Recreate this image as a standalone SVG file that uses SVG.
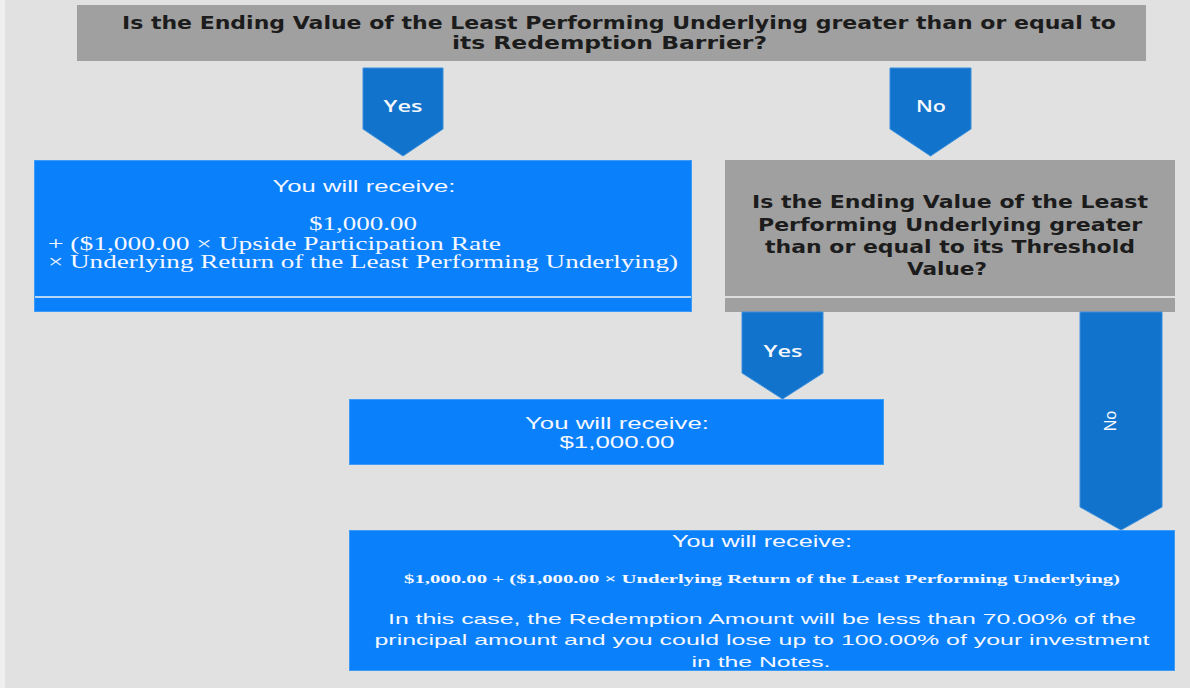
<svg xmlns="http://www.w3.org/2000/svg" width="1190" height="688" viewBox="0 0 1190 688">
<style>
.q{fill:#a0a0a0}
.b{fill:#0a80fa;stroke:#3d9bf5;stroke-width:1}
.ar{fill:#1273cc;stroke:#3a8fdc;stroke-width:1}
.qt{font-family:"DejaVu Sans",sans-serif;font-weight:bold;fill:#1c1c1c}
.at{font-family:"Open Sans","Liberation Sans",sans-serif;font-size:17px;font-weight:600;fill:#f4f8fc;text-anchor:middle}
.st{font-family:"Liberation Sans",Arial,sans-serif;fill:#f5f8ff}
.sf{font-family:"Liberation Serif","DejaVu Serif",serif;fill:#f5f8ff}
.sep{stroke:#f2f2f2;stroke-width:1.5}
</style>
<rect width="1190" height="688" fill="#e1e1e1"/>
<rect x="0" y="0" width="5" height="688" fill="#efefef"/>

<g id="q1">
<rect class="q" x="77" y="5" width="1069" height="56"/>
<text class="qt" font-size="17" x="122" y="29" textLength="994" lengthAdjust="spacingAndGlyphs">Is the Ending Value of the Least Performing Underlying greater than or equal to</text>
<text class="qt" font-size="17" x="452" y="49" textLength="315" lengthAdjust="spacingAndGlyphs">its Redemption Barrier?</text>
</g>

<g id="r1">
<rect class="b" x="34.5" y="160.5" width="657" height="151"/>
<line class="sep" x1="35" y1="297" x2="691" y2="297"/>
<text class="st" font-size="17" x="364" y="192" text-anchor="middle" textLength="183" lengthAdjust="spacingAndGlyphs">You will receive:</text>
<text class="sf" font-size="18" x="363" y="230" text-anchor="middle" textLength="108" lengthAdjust="spacingAndGlyphs">$1,000.00</text>
<text class="sf" font-size="18" x="48" y="250" textLength="453" lengthAdjust="spacingAndGlyphs">+ ($1,000.00 × Upside Participation Rate</text>
<text class="sf" font-size="18" x="48" y="268" textLength="630" lengthAdjust="spacingAndGlyphs">× Underlying Return of the Least Performing Underlying)</text>
</g>

<g id="q2">
<rect class="q" x="725" y="160" width="450" height="152"/>
<line class="sep" x1="725" y1="297" x2="1175" y2="297"/>
<text class="qt" font-size="17.5" x="950" y="208" text-anchor="middle" textLength="396" lengthAdjust="spacingAndGlyphs">Is the Ending Value of the Least</text>
<text class="qt" font-size="17.5" x="950" y="231" text-anchor="middle" textLength="384" lengthAdjust="spacingAndGlyphs">Performing Underlying greater</text>
<text class="qt" font-size="17.5" x="950" y="253" text-anchor="middle" textLength="370" lengthAdjust="spacingAndGlyphs">than or equal to its Threshold</text>
<text class="qt" font-size="17.5" x="947" y="275" text-anchor="middle" textLength="80" lengthAdjust="spacingAndGlyphs">Value?</text>
</g>

<g id="r2">
<rect class="b" x="349.5" y="399.5" width="534" height="65"/>
<text class="st" font-size="17" x="617" y="429" text-anchor="middle" textLength="184" lengthAdjust="spacingAndGlyphs">You will receive:</text>
<text class="st" font-size="17" x="617" y="448" text-anchor="middle" textLength="115" lengthAdjust="spacingAndGlyphs">$1,000.00</text>
</g>

<g id="r3">
<rect class="b" x="349.5" y="530.5" width="825" height="140"/>
<text class="st" font-size="17" x="762" y="547" text-anchor="middle" textLength="180" lengthAdjust="spacingAndGlyphs">You will receive:</text>
<text class="sf" font-size="13" font-weight="bold" x="762" y="583" text-anchor="middle" textLength="716" lengthAdjust="spacingAndGlyphs">$1,000.00 + ($1,000.00 × Underlying Return of the Least Performing Underlying)</text>
<text class="st" font-size="15" x="762" y="624" text-anchor="middle" textLength="748" lengthAdjust="spacingAndGlyphs">In this case, the Redemption Amount will be less than 70.00% of the</text>
<text class="st" font-size="15" x="762" y="645" text-anchor="middle" textLength="775" lengthAdjust="spacingAndGlyphs">principal amount and you could lose up to 100.00% of your investment</text>
<text class="st" font-size="15" x="761" y="667" text-anchor="middle" textLength="139" lengthAdjust="spacingAndGlyphs">in the Notes.</text>
</g>

<g id="connectors">
<g id="c-yes1">
<path class="ar" d="M363,68 H443 V129 L403,156 L363,129 Z"/>
<text class="at" x="403" y="112" textLength="39" lengthAdjust="spacingAndGlyphs">Yes</text>
</g>
<g id="c-no1">
<path class="ar" d="M890,68 H971 V129 L930.5,156 L890,129 Z"/>
<text class="at" x="931" y="112" textLength="30" lengthAdjust="spacingAndGlyphs">No</text>
</g>
<g id="c-yes2">
<path class="ar" d="M742,312 H823 V373 L782.5,399 L742,373 Z"/>
<text class="at" x="783" y="357" textLength="39" lengthAdjust="spacingAndGlyphs">Yes</text>
</g>
<g id="c-no2">
<path class="ar" d="M1080,312 H1162 V507 L1121,530 L1080,507 Z"/>
<text class="st" font-size="16" text-anchor="middle" transform="translate(1116,421) rotate(-90)">No</text>
</g>
</g>
</svg>
